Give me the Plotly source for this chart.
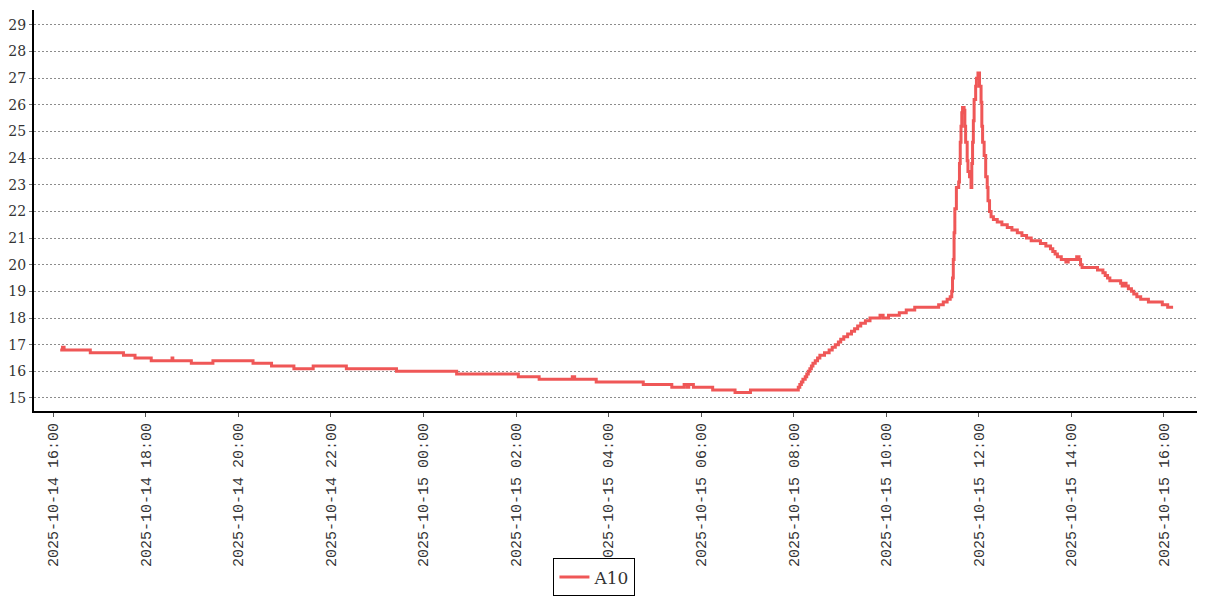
import plotly.graph_objects as go

# ---- data ----
day1 = "2025-10-14"
day2 = "2025-10-15"

times_day1 = ["16:09", "16:12", "16:14", "16:48", "17:31", "17:46", "18:07", "18:34", "18:35",
              "18:59", "19:27", "20:19", "20:43", "21:12", "21:37", "22:20", "23:25"]
temps_day1 = [16.8, 16.9, 16.8, 16.7, 16.6, 16.5, 16.4, 16.5, 16.4,
              16.3, 16.4, 16.3, 16.2, 16.1, 16.2, 16.1, 16.0]

times_night = ["00:43", "02:03", "02:30", "03:13", "03:16", "03:44", "04:45", "05:22", "05:38",
               "05:42", "05:44", "05:50", "06:15", "06:44", "07:04"]
temps_night = [15.9, 15.8, 15.7, 15.8, 15.7, 15.6, 15.5, 15.4, 15.5,
               15.4, 15.5, 15.4, 15.3, 15.2, 15.3]

times_rise = ["08:06", "08:08", "08:10", "08:12", "08:15", "08:17", "08:19", "08:21", "08:23",
              "08:25", "08:28", "08:31", "08:34", "08:40", "08:46", "08:50", "08:54", "08:58",
              "09:01", "09:05", "09:10", "09:15", "09:19", "09:23", "09:27", "09:33", "09:39",
              "09:52", "09:56", "10:03", "10:17", "10:26", "10:37", "11:08", "11:14", "11:19",
              "11:23"]
temps_rise = [15.4, 15.5, 15.6, 15.7, 15.8, 15.9, 16.0, 16.1, 16.2,
              16.3, 16.4, 16.5, 16.6, 16.7, 16.8, 16.9, 17.0, 17.1,
              17.2, 17.3, 17.4, 17.5, 17.6, 17.7, 17.8, 17.9, 18.0,
              18.1, 18.0, 18.1, 18.2, 18.3, 18.4, 18.5, 18.6, 18.7,
              18.8]

times_peak = ["11:25", "11:26", "11:27", "11:28", "11:29", "11:31", "11:34", "11:35", "11:36",
              "11:37", "11:38", "11:39", "11:41", "11:42", "11:43", "11:45", "11:46", "11:48",
              "11:50", "11:51", "11:52", "11:53", "11:54", "11:56", "11:57", "11:59", "12:01",
              "12:03", "12:04", "12:05", "12:07", "12:09", "12:11", "12:12", "12:14"]
temps_peak = [19.0, 19.5, 20.2, 21.2, 22.1, 22.9, 23.1, 23.8, 24.6,
              25.2, 25.7, 25.9, 25.8, 25.2, 24.6, 23.9, 23.5, 23.3,
              22.9, 23.8, 24.6, 25.4, 26.2, 26.7, 27.0, 27.2, 26.7,
              26.1, 25.2, 24.6, 24.1, 23.3, 22.9, 22.4, 22.0]

times_fall = ["12:16", "12:19", "12:24", "12:30", "12:37", "12:43", "12:50", "12:56", "13:02",
              "13:08", "13:20", "13:27", "13:33", "13:36", "13:39", "13:42", "13:47", "13:53",
              "13:56", "14:07", "14:10", "14:12", "14:14", "14:34", "14:41", "14:44", "14:47",
              "14:50", "15:04", "15:06", "15:08", "15:11", "15:14", "15:18", "15:21", "15:25",
              "15:30", "15:40", "15:58", "16:05", "16:12"]
temps_fall = [21.8, 21.7, 21.6, 21.5, 21.4, 21.3, 21.2, 21.1, 21.0,
              20.9, 20.8, 20.7, 20.6, 20.5, 20.4, 20.3, 20.2, 20.1,
              20.2, 20.3, 20.2, 20.0, 19.9, 19.8, 19.7, 19.6, 19.5,
              19.4, 19.3, 19.2, 19.3, 19.2, 19.1, 19.0, 18.9, 18.8,
              18.7, 18.6, 18.5, 18.4, 18.4]

series_name = "A10"
y_ticks = list(range(15, 30))
x_tick_start = "2025-10-14 16:00"

# ---- build series ----
times = ([f"{day1} {t}" for t in times_day1]
         + [f"{day2} {t}" for t in times_night + times_rise + times_peak + times_fall])
temps = temps_day1 + temps_night + temps_rise + temps_peak + temps_fall

LINE = "#ef5757"
GRID = "#8c8c8c"
XFONT = dict(family="Liberation Mono, DejaVu Sans Mono, monospace", size=15, color="#333333")
YFONT = dict(family="DejaVu Serif, serif", size=14, color="#333333")

fig = go.Figure()
fig.add_trace(go.Scatter(
    x=times, y=temps, name=series_name, mode="lines",
    line=dict(color=LINE, width=3, shape="hv"),
    showlegend=True,
))

fig.update_layout(
    width=1207, height=600,
    margin=dict(l=34, r=10, t=10, b=189),
    paper_bgcolor="white", plot_bgcolor="white",
    showlegend=True,
    legend=dict(
        orientation="h", xref="container", yref="container",
        x=0.4925, xanchor="center", y=0.006, yanchor="bottom",
        bordercolor="black", borderwidth=1, bgcolor="white",
        font=dict(family="DejaVu Serif, serif", size=17, color="#333333"),
        itemwidth=30,
    ),
    xaxis=dict(
        type="date", automargin=False,
        range=["2025-10-14 15:35", "2025-10-15 16:43"],
        tick0=x_tick_start, dtick=2 * 3600 * 1000,
        tickformat="%Y-%m-%d %H:%M",
        tickangle=-90,
        tickfont=XFONT,
        showgrid=False, zeroline=False,
        showline=True, linecolor="black", linewidth=2,
        ticks="outside", ticklen=4, tickcolor="#555555",
    ),
    yaxis=dict(
        automargin=False,
        range=[14.51, 29.56],
        tickvals=y_ticks,
        tickfont=YFONT,
        showgrid=True, gridcolor=GRID, gridwidth=1, griddash="2px,2px",
        zeroline=False,
        showline=True, linecolor="black", linewidth=2,
        ticks="outside", ticklen=3, tickcolor="#777777",
    ),
)

fig.write_html(
    "out.html",
    config={"displayModeBar": False},
    post_script="document.body.style.margin='0';document.body.style.overflow='hidden';",
)
